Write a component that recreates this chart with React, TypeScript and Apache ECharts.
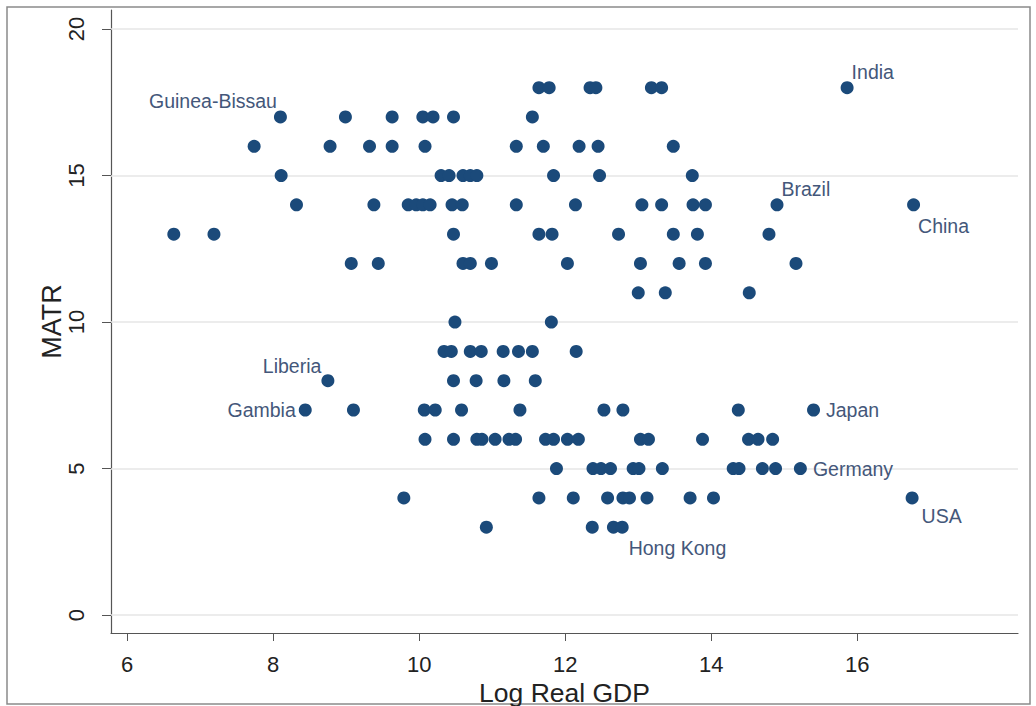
import React, { useEffect, useRef } from 'react';
import * as echarts from 'echarts';

// Log real GDP of unlabelled countries, one array per MATR value
const gdpAt18 = [11.64, 11.78, 12.34, 12.42, 13.18, 13.32];
const gdpAt17 = [8.99, 9.63, 10.05, 10.19, 10.47, 11.55];
const gdpAt16 = [7.74, 8.78, 9.32, 9.63, 10.08, 11.33, 11.7, 12.19, 12.45, 13.48];
const gdpAt15 = [8.11, 10.3, 10.41, 10.6, 10.7, 10.79, 11.84, 12.47, 13.74];
const gdpAt14 = [8.32, 9.38, 9.85, 9.96, 10.05, 10.15, 10.45, 10.59, 11.33, 12.14, 13.05, 13.32, 13.75, 13.92];
const gdpAt13 = [6.64, 7.19, 10.47, 11.64, 11.82, 12.73, 13.48, 13.81, 14.79];
const gdpAt12 = [9.07, 9.44, 10.6, 10.7, 10.99, 12.03, 13.03, 13.56, 13.92, 15.16];
const gdpAt11 = [13.0, 13.37, 14.52];
const gdpAt10 = [10.49, 11.81];
const gdpAt9 = [10.34, 10.44, 10.7, 10.85, 11.15, 11.36, 11.55, 12.15];
const gdpAt8 = [10.47, 10.78, 11.16, 11.59];
const gdpAt7 = [9.1, 10.07, 10.22, 10.58, 11.38, 12.53, 12.79, 14.37];
const gdpAt6 = [10.08, 10.47, 10.79, 10.86, 11.04, 11.23, 11.32, 11.73, 11.84, 12.03, 12.18, 13.03, 13.14, 13.88, 14.51, 14.64, 14.84];
const gdpAt5 = [11.88, 12.38, 12.49, 12.62, 12.93, 13.01, 13.33, 14.3, 14.38, 14.7, 14.88];
const gdpAt4 = [9.79, 11.64, 12.11, 12.58, 12.79, 12.88, 13.12, 13.71, 14.03];
const gdpAt3 = [10.92, 12.37, 12.66];

const matrLevels = [18, 17, 16, 15, 14, 13, 12, 11, 10, 9, 8, 7, 6, 5, 4, 3];
const gdpRows = [gdpAt18, gdpAt17, gdpAt16, gdpAt15, gdpAt14, gdpAt13, gdpAt12, gdpAt11, gdpAt10, gdpAt9, gdpAt8, gdpAt7, gdpAt6, gdpAt5, gdpAt4, gdpAt3];

// labelled countries
const countryNames = ['Guinea-Bissau', 'Liberia', 'Gambia', 'India', 'Brazil', 'China', 'Japan', 'Germany', 'USA', 'Hong Kong'];
const countryGdp = [8.1, 8.75, 8.44, 15.86, 14.9, 16.77, 15.4, 15.22, 16.75, 12.78];
const countryMatr = [17, 8, 7, 18, 14, 14, 7, 5, 4, 3];

const xTicks = [6, 8, 10, 12, 14, 16];
const yTicks = [0, 5, 10, 15, 20];

const dotColor = '#1b4a7a';
const labelColor = '#44577a';
const font = '"Liberation Sans", Arial, sans-serif';

// where each country's label sits relative to its dot
const labelPlace: Record<string, { position: string; distance: number; offset: number[] }> = {
  'Guinea-Bissau': { position: 'left', distance: 0, offset: [3, -16] },
  Liberia: { position: 'left', distance: 0, offset: [0, -15] },
  Gambia: { position: 'left', distance: 3, offset: [0, 0] },
  India: { position: 'right', distance: 0, offset: [-2, -16] },
  Brazil: { position: 'right', distance: 0, offset: [-2, -16] },
  China: { position: 'right', distance: 0, offset: [-2, 21] },
  Japan: { position: 'right', distance: 6, offset: [0, 0] },
  Germany: { position: 'right', distance: 6, offset: [0, 0] },
  USA: { position: 'right', distance: 3, offset: [0, 18] },
  'Hong Kong': { position: 'right', distance: 0, offset: [0, 21] },
};

const App = () => {
  const chartRef = useRef<HTMLDivElement>(null);

  useEffect(() => {
    const chart = echarts.init(chartRef.current, null, { renderer: 'svg' });

    const plain: number[][] = [];
    gdpRows.forEach((row, i) => {
      row.forEach((g) => plain.push([g, matrLevels[i]]));
    });

    const named = countryNames.map((name, i) => ({
      name,
      value: [countryGdp[i], countryMatr[i]],
      label: {
        show: true,
        formatter: name,
        ...labelPlace[name],
      },
    }));

    const option = {
      animation: false,
      textStyle: { fontFamily: font },
      graphic: [
        {
          type: 'rect',
          shape: { x: 7, y: 7, width: 1023, height: 697 },
          style: { fill: 'none', stroke: '#8a8a8a', lineWidth: 1.5 },
          silent: true,
        },
      ],
      grid: { left: 111, right: 18, top: 10, bottom: 73, outerBoundsMode: 'none' },
      xAxis: {
        type: 'value',
        min: 5.78,
        max: 18.2,
        name: 'Log Real GDP',
        nameLocation: 'middle',
        nameGap: 46,
        nameMoveOverlap: false,
        nameTextStyle: { fontSize: 26.5, color: '#222', fontFamily: font },
        axisLine: { show: true, onZero: false, lineStyle: { color: '#555', width: 1.2 } },
        axisTick: { show: true, length: 8, customValues: xTicks, lineStyle: { color: '#555' } },
        axisLabel: { customValues: xTicks, fontSize: 22, color: '#222', margin: 20, fontFamily: font },
        splitLine: { show: false },
      },
      yAxis: {
        type: 'value',
        min: -0.61,
        max: 20.65,
        name: 'MATR',
        nameLocation: 'middle',
        nameGap: 46,
        nameRotate: 90,
        nameMoveOverlap: false,
        nameTextStyle: { fontSize: 27, color: '#222', fontFamily: font },
        axisLine: { show: true, onZero: false, lineStyle: { color: '#555', width: 1.2 } },
        axisTick: { show: true, length: 9, customValues: yTicks, lineStyle: { color: '#555' } },
        axisLabel: { customValues: yTicks, fontSize: 22, color: '#222', margin: 24, rotate: 90, fontFamily: font },
        splitLine: { show: false },
      },
      series: [
        {
          type: 'scatter',
          data: [],
          z: 1,
          silent: true,
          markLine: {
            z: 1,
            silent: true,
            symbol: 'none',
            label: { show: false },
            lineStyle: { color: '#e6e6e6', width: 1.5, type: 'solid' },
            data: yTicks.map((t) => ({ yAxis: t })),
          },
        },
        {
          type: 'scatter',
          z: 3,
          symbolSize: 13,
          itemStyle: { color: dotColor, opacity: 1 },
          data: plain,
        },
        {
          type: 'scatter',
          z: 4,
          symbolSize: 13,
          itemStyle: { color: dotColor, opacity: 1 },
          label: { fontSize: 19.5, color: labelColor, fontFamily: font },
          data: named,
        },
      ],
    };

    chart.setOption(option);

    return () => {
      chart.dispose();
    };
  }, []);

  return (
    <div
      ref={chartRef}
      style={{ position: 'fixed', left: 0, top: 0, width: 1036, height: 706, background: '#fff' }}
    />
  );
};

export default App;
